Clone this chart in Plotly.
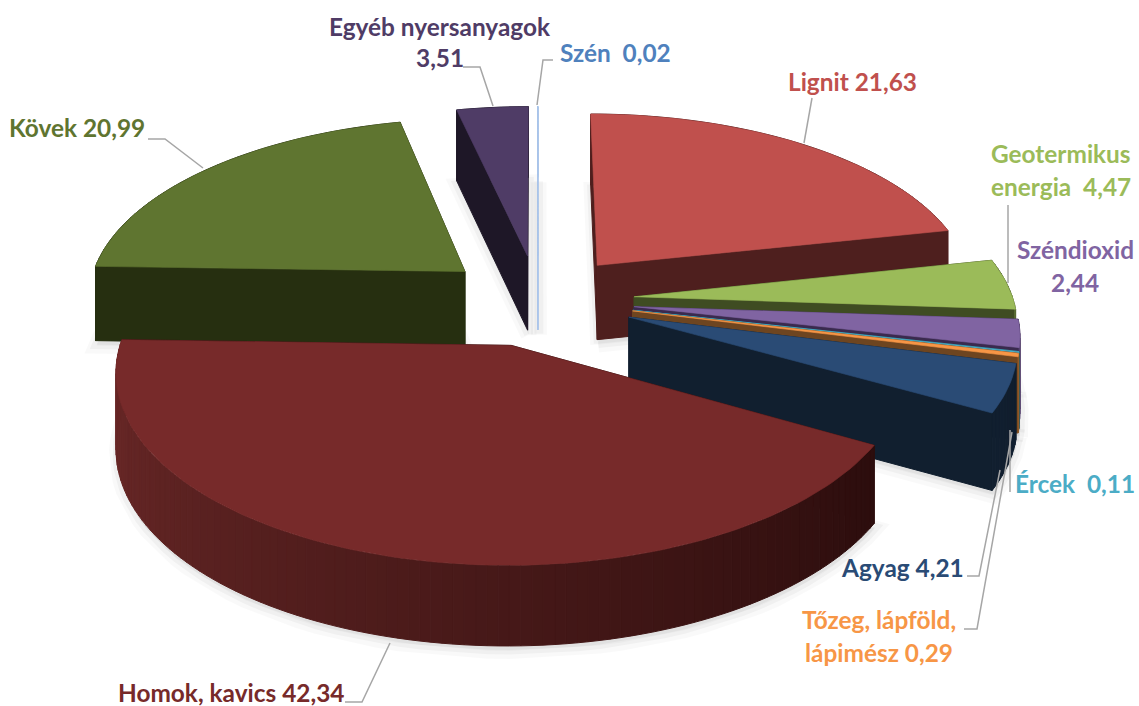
import math
import plotly.graph_objects as go

categories = ["Lignit", "Geotermikus energia", "Széndioxid", "Ércek", "Tőzeg, lápföld, lápimész",
              "Agyag", "Homok, kavics", "Kövek", "Egyéb nyersanyagok", "Szén"]
values = [21.63, 4.47, 2.44, 0.11, 0.29, 4.21, 42.34, 20.99, 3.51, 0.02]
top_colors = ["#C0504D", "#9BBB59", "#8064A2", "#4BACC6", "#F79646",
              "#2A4B75", "#772A2A", "#5F7530", "#4F3C66", "#A9C4EA"]
cut_colors = ["#4E1F1E", "#3F4C22", "#3A2A4E", "#1F6070", "#6E4520",
              "#111F2F", "#2F0F0E", "#262F10", "#1E1727", "#A9C4EA"]
wall_left = ["#5A2423", "#5A6E32", "#5C4578", "#2E7F92", "#B56E30",
             "#111F2F", "#6E2A29", "#262F10", "#1E1727", "#A9C4EA"]
wall_right = ["#4E1F1E", "#3F4C22", "#3A2A4E", "#1F6070", "#6E4520",
              "#111F2F", "#2C0D0D", "#262F10", "#1E1727", "#A9C4EA"]

# (text, x, y, color)
label_lines = [
    ("Egyéb nyersanyagok", 440, 26, "#4F3C66"), ("3,51", 440, 57, "#4F3C66"),
    ("Szén  0,02", 615, 52, "#4F81BD"),
    ("Lignit 21,63", 852, 81, "#C0504D"),
    ("Geotermikus", 1061, 153, "#9BBB59"), ("energia  4,47", 1061, 186, "#9BBB59"),
    ("Széndioxid", 1075, 249, "#8064A2"), ("2,44", 1075, 282, "#8064A2"),
    ("Kövek 20,99", 77, 127, "#5F7530"),
    ("Homok, kavics 42,34", 231, 692, "#772A2A"),
    ("Ércek  0,11", 1075, 483, "#4BACC6"),
    ("Agyag 4,21", 902, 567, "#2A4B75"),
    ("Tőzeg, lápföld,", 879, 619, "#F79646"), ("lápimész 0,29", 879, 652, "#F79646"),
]
leaders = [
    [(463, 67), (480, 67), (493, 106)], [(553, 60), (543, 60), (537, 105)],
    [(812, 98), (804, 143)], [(1008, 205), (1008, 283)],
    [(148, 139), (165, 139), (203, 168)], [(345, 702), (362, 702), (390, 643)],
    [(1010, 492), (1010, 430)], [(967, 576), (979, 576), (1000, 470)],
    [(964, 629), (977, 629), (1012, 432)],
]

CX, CY, F, G, P, EXPL, H = 538, 300, 379, 179, 0.128, 0.255, 75


def proj(u, v, z=0.0):
    w = 1 - P * v
    return CX + F * u / w, CY + G * v / w + z * (0.6 + 0.4 / w)


def hex2(c):
    return tuple(int(c[i:i + 2], 16) for i in (1, 3, 5))


def mix(a, b, t):
    ca, cb = hex2(a), hex2(b)
    return "rgb(%d,%d,%d)" % tuple(round(ca[i] + (cb[i] - ca[i]) * t) for i in range(3))


fig = go.Figure()


def poly(pts, color, lw=1.0):
    fig.add_trace(go.Scatter(x=[p[0] for p in pts] + [pts[0][0]], y=[p[1] for p in pts] + [pts[0][1]],
                             mode="lines", fill="toself", fillcolor=color,
                             line=dict(color=color, width=lw), hoverinfo="skip", showlegend=False))


total = sum(values)
slices = []
acc = 0.0
for i, val in enumerate(values):
    a0 = acc / total * 2 * math.pi
    acc += val
    a1 = acc / total * 2 * math.pi
    mid = (a0 + a1) / 2
    slices.append((i, a0, a1, EXPL * math.sin(mid), -EXPL * math.cos(mid)))

# soft ground shadows
for i, a0, a1, ou, ov in slices:
    n = max(2, int((a1 - a0) / 0.05))
    ang = [a0 + (a1 - a0) * k / n for k in range(n + 1)]
    base = [proj(ou, ov, H)] + [proj(ou + math.sin(a), ov - math.cos(a), H) for a in ang]
    for off, lw, alpha in ((5, 16, 0.025), (4, 9, 0.035)):
        pts = [(x + 1, y + off) for x, y in base]
        fig.add_trace(go.Scatter(x=[p[0] for p in pts] + [pts[0][0]], y=[p[1] for p in pts] + [pts[0][1]],
                                 mode="lines", fill="toself", fillcolor="rgba(0,0,0,%g)" % alpha,
                                 line=dict(color="rgba(0,0,0,%g)" % alpha, width=lw),
                                 hoverinfo="skip", showlegend=False))

# back-to-front painter's order
for i, a0, a1, ou, ov in sorted(slices, key=lambda s: (s[4], s[0])):
    apex_top, apex_bot = proj(ou, ov), proj(ou, ov, H)
    n = max(2, int((a1 - a0) / 0.025))
    ang = [a0 + (a1 - a0) * k / n for k in range(n + 1)]
    rim = [(ou + math.sin(a), ov - math.cos(a)) for a in ang]
    faces = []
    for a, (u, v) in ((a0, rim[0]), (a1, rim[-1])):
        faces.append(((ov + v) / 2, [apex_top, proj(u, v), proj(u, v, H), apex_bot], cut_colors[i]))
    for k in range(n):
        (u0, v0), (u1, v1) = rim[k], rim[k + 1]
        t = k / n
        col = mix(wall_right[i], wall_left[i], t)
        faces.append(((v0 + v1) / 2 + 0.001, [proj(u0, v0), proj(u1, v1), proj(u1, v1, H), proj(u0, v0, H)], col))
    for _, pts, col in sorted(faces, key=lambda f: f[0]):
        poly(pts, col)
    poly([apex_top] + [proj(u, v) for u, v in rim], top_colors[i], lw=0.6)

shapes = [dict(type="path", line=dict(color="#A6A6A6", width=1.5),
               path="M " + " L ".join("%g,%g" % p for p in seg)) for seg in leaders]
annotations = [dict(x=x, y=y, text="<b>%s</b>" % t, showarrow=False, xanchor="center", yanchor="middle",
                    font=dict(family="Lato", size=24.4, color=c)) for t, x, y, c in label_lines]

fig.update_layout(
    width=1139, height=706, margin=dict(l=0, r=0, t=0, b=0), autosize=False,
    paper_bgcolor="white", plot_bgcolor="white", showlegend=False,
    xaxis=dict(range=[0, 1139], visible=False, fixedrange=True),
    yaxis=dict(range=[706, 0], visible=False, fixedrange=True),
    shapes=shapes, annotations=annotations,
)
fig.write_html("out.html", config={"displayModeBar": False},
               post_script="document.body.style.margin='0';document.body.style.overflow='hidden';")
